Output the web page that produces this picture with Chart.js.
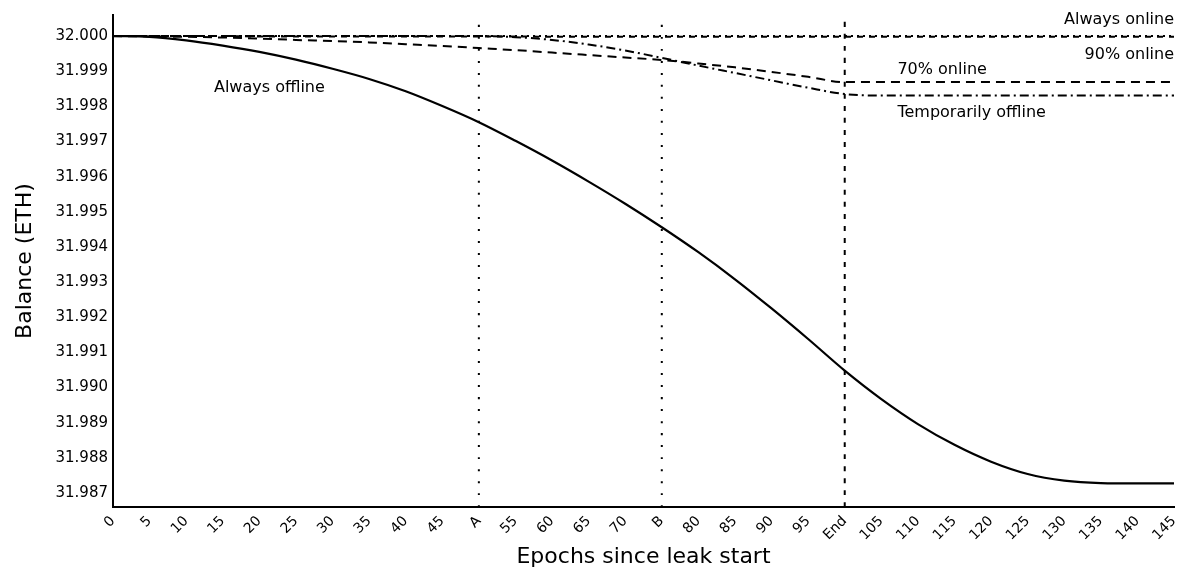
<!DOCTYPE html>
<html>
<head>
<meta charset="utf-8">
<script src="https://cdn.jsdelivr.net/npm/chart.js@4"></script>
<style>
  html, body { margin: 0; padding: 0; background: #fff; }
  #wrap { width: 1179px; height: 572px; }
</style>
</head>
<body>
<div id="wrap"><canvas id="balance-chart"></canvas></div>
<script>
const epochs = [0, 5, 10, 15, 20, 25, 30, 35, 40, 45, 50, 55, 60, 65, 70, 75, 80, 85, 90, 95, 100,
  105, 110, 115, 120, 125, 130, 135, 140, 145];

const alwaysOffline = [32.00000, 31.99998, 31.99988, 31.99973, 31.99955, 31.99933, 31.99907, 31.99878,
  31.99843, 31.99801, 31.99755, 31.99702, 31.99646, 31.99586, 31.99523, 31.99456, 31.99385, 31.99308,
  31.99225, 31.99138, 31.99048, 31.98967, 31.98896, 31.98837, 31.98789, 31.98754, 31.98735, 31.98728,
  31.98727, 31.98727];

const seventyOnline = [32.00000, 31.99999, 31.99998, 31.99996, 31.99993, 31.99989, 31.99986, 31.99982,
  31.99977, 31.99972, 31.99966, 31.99960, 31.99953, 31.99946, 31.99939, 31.99932, 31.99922, 31.99911,
  31.99898, 31.99884, 31.99869, 31.99869, 31.99869, 31.99869, 31.99869, 31.99869, 31.99869, 31.99869,
  31.99869, 31.99869];

const temporarilyOffline = [32.00000, 32.00000, 32.00000, 32.00000, 32.00000, 32.00000, 32.00000, 32.00000,
  32.00000, 32.00000, 32.00000, 31.99997, 31.99989, 31.99976, 31.99959, 31.99938, 31.99916, 31.99895,
  31.99874, 31.99853, 31.99835, 31.99831, 31.99831, 31.99831, 31.99831, 31.99831, 31.99831, 31.99831,
  31.99831, 31.99831];

const ninetyOnline = [32.00000, 32.00000, 32.00000, 32.00000, 31.99999, 31.99999, 31.99999, 31.99999,
  31.99999, 31.99999, 31.99999, 31.99999, 31.99998, 31.99998, 31.99998, 31.99998, 31.99998, 31.99998,
  31.99998, 31.99998, 31.99998, 31.99998, 31.99998, 31.99998, 31.99998, 31.99998, 31.99998, 31.99998,
  31.99998, 31.99998];

const alwaysOnline = [32.00000, 32.00000, 32.00000, 32.00000, 32.00000, 32.00000, 32.00000, 32.00000,
  32.00000, 32.00000, 32.00000, 32.00000, 32.00000, 32.00000, 32.00000, 32.00000, 32.00000, 32.00000,
  32.00000, 32.00000, 32.00000, 32.00000, 32.00000, 32.00000, 32.00000, 32.00000, 32.00000, 32.00000,
  32.00000, 32.00000];

const yTicks = [31.987, 31.988, 31.989, 31.990, 31.991, 31.992, 31.993, 31.994, 31.995, 31.996,
  31.997, 31.998, 31.999, 32.000];
const xTickNames = { 50: 'A', 75: 'B', 100: 'End' };
const markerEpochs = [50, 75, 100];

const Y_MIN = 31.9866;
const Y_MAX = 32.0006;
const FONT = 'DejaVu Sans';

const toPoints = values => epochs.map((e, i) => ({ x: e, y: values[i] }));

const markerLine = (epoch, dash) => ({
  data: [{ x: epoch, y: Y_MIN }, { x: epoch, y: Y_MAX }],
  borderColor: '#000',
  borderWidth: 2,
  borderDash: dash,
  tension: 0,
});

// text labels next to the curves
const curveLabels = [
  { text: 'Always online', x: 145, y: 32.00046, align: 'right' },
  { text: '90% online', x: 145, y: 31.99946, align: 'right' },
  { text: '70% online', x: 107.2, y: 31.99903, align: 'left' },
  { text: 'Temporarily offline', x: 107.2, y: 31.99781, align: 'left' },
  { text: 'Always offline', x: 13.8, y: 31.99852, align: 'left' },
];

const labelPlugin = {
  id: 'curveLabels',
  afterDatasetsDraw(chart) {
    const { ctx, scales } = chart;
    ctx.save();
    ctx.fillStyle = '#000';
    ctx.font = '16px "' + FONT + '"';
    ctx.textBaseline = 'middle';
    curveLabels.forEach(l => {
      ctx.textAlign = l.align;
      ctx.fillText(l.text, scales.x.getPixelForValue(l.x), scales.y.getPixelForValue(l.y));
    });
    ctx.restore();
  }
};

const ctx = document.getElementById('balance-chart').getContext('2d');
new Chart(ctx, {
  type: 'line',
  data: {
    datasets: [
      { data: toPoints(alwaysOffline), borderColor: '#000', borderWidth: 2.2 },
      { data: toPoints(seventyOnline), borderColor: '#000', borderWidth: 2, borderDash: [9, 6] },
      { data: toPoints(temporarilyOffline), borderColor: '#000', borderWidth: 2, borderDash: [9, 4, 2, 4] },
      { data: toPoints(ninetyOnline), borderColor: '#000', borderWidth: 2, borderDash: [6, 6] },
      { data: toPoints(alwaysOnline), borderColor: '#000', borderWidth: 2, borderDash: [2, 4] },
      markerLine(markerEpochs[0], [2, 10]),
      markerLine(markerEpochs[1], [2, 10]),
      markerLine(markerEpochs[2], [5, 7]),
    ],
  },
  options: {
    responsive: true,
    maintainAspectRatio: false,
    animation: false,
    layout: { padding: { top: 15, right: 5, left: 0, bottom: 0 } },
    plugins: { legend: { display: false }, tooltip: { enabled: false } },
    elements: {
      point: { radius: 0 },
      line: { cubicInterpolationMode: 'monotone' },
    },
    scales: {
      x: {
        type: 'linear',
        min: 0,
        max: 145,
        grid: { display: false, drawTicks: false },
        border: { color: '#000', width: 2 },
        ticks: {
          stepSize: 5,
          autoSkip: false,
          minRotation: 45,
          maxRotation: 45,
          padding: 6,
          color: '#000',
          font: { family: FONT, size: 14 },
          callback: v => xTickNames[v] || String(v),
        },
        title: {
          display: true,
          text: 'Epochs since leak start',
          color: '#000',
          font: { family: FONT, size: 22 },
          padding: { top: 0, bottom: 2 },
        },
        afterFit: s => { s.height = 65; s.paddingLeft = 0; s.paddingRight = 0; },
      },
      y: {
        min: Y_MIN,
        max: Y_MAX,
        grid: { display: false, drawTicks: false },
        border: { color: '#000', width: 2 },
        afterBuildTicks: s => { s.ticks = yTicks.map(v => ({ value: v })); },
        ticks: {
          padding: 5,
          color: '#000',
          font: { family: FONT, size: 15 },
          callback: v => Number(v).toFixed(3),
        },
        title: {
          display: true,
          text: 'Balance (ETH)',
          color: '#000',
          font: { family: FONT, size: 22 },
          padding: { top: 12, bottom: 0 },
        },
        afterFit: s => { s.width = 113; },
      },
    },
  },
  plugins: [labelPlugin],
});
</script>
</body>
</html>
